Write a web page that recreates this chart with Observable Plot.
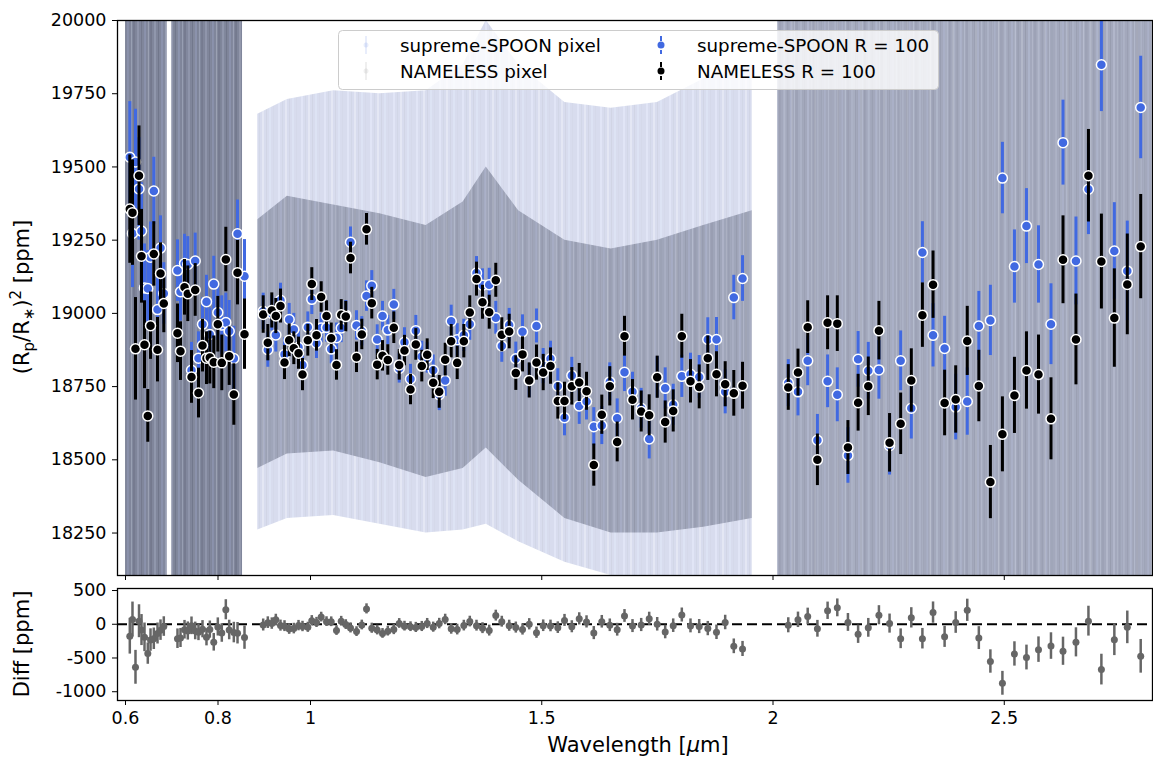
<!DOCTYPE html>
<html><head><meta charset="utf-8">
<script src="https://cdn.jsdelivr.net/npm/d3@7"></script>
<script src="https://cdn.jsdelivr.net/npm/@observablehq/plot@0.6"></script>
<style>
body{margin:0;background:#fff;}
#fig{position:relative;width:1153px;height:757px;font-family:"DejaVu Sans",sans-serif;background:#fff;}
#top,#bot{position:absolute;left:0;}
#top{top:0px}
#bot{top:585px}
</style></head><body><div id="fig"><div id="top"></div><div id="bot"></div></div>
<script>
// ---------- data ----------
const xTicks = [0.6, 0.8, 1, 1.5, 2, 2.5];
const xTickLabels = ["0.6", "0.8", "1", "1.5", "2", "2.5"];
const yTicks = [18250, 18500, 18750, 19000, 19250, 19500, 19750, 20000];
const diffTicks = [-1000, -500, 0, 500];

// R = 100 binned spectra (wavelength in micron, depth in ppm)
const binWave = [
0.6093,0.6151,0.6216,0.6292,0.6346,0.6411,0.6482,0.6541,0.6612,0.6692,0.6757,0.6828,
0.7124,0.7189,0.7276,0.7347,0.7427,0.7507,0.7578,0.7665,0.7751,0.7823,0.7908,0.7996,0.8082,0.8169,0.8242,0.8342,0.8422,0.8573,
0.8977,0.9077,0.9163,0.9250,0.9351,0.9438,0.9539,0.9639,0.9741,0.9827,
0.9942,1.0028,1.0130,1.0231,1.0346,1.0448,1.0562,1.0664,1.0763,1.0865,
1.0995,1.1109,1.1211,1.1325,1.1442,1.1557,1.1671,1.1801,1.1918,1.2032,
1.2162,1.2277,1.2406,1.2523,1.2653,1.2783,1.2912,1.3042,1.3172,1.3315,
1.3444,1.3589,1.3719,1.3864,1.4006,1.4136,1.4296,1.4439,1.4584,1.4729,
1.4886,1.5031,1.5189,1.5347,1.5492,1.5650,1.5810,1.5968,1.6125,1.6298,
1.6471,1.6631,1.6789,1.6962,1.7150,1.7323,1.7496,1.7669,1.7842,1.8028,
1.8216,1.8404,1.8590,1.8778,1.8966,1.9152,1.9341,
2.033,2.054,2.075,2.096,2.118,2.139,2.162,2.184,2.206,2.229,
2.252,2.276,2.299,2.323,2.346,2.371,2.395,2.420,2.445,2.470,
2.496,2.522,2.548,2.574,2.601,2.627,2.655,2.682,2.710,2.738,
2.766,2.795];

const spoonValue = [
19533,19273,19517,19425,19281,19087,19085,19192,19418,19013,19223,19068,
19146,19074,19170,19167,18806,19179,18847,18963,19040,18928,19100,19003,18960,18969,18939,18846,19272,19127,
19007,18876,19000,18926,19045,18860,18979,18945,18884,18824,
18953,19048,18898,18950,18952,18878,18917,18950,18994,19243,
18959,18939,19059,19094,18911,18991,18943,19030,18812,18901,
18776,18941,18853,18848,18806,18722,18771,18973,18910,18925,
18963,19138,19096,19098,18985,18889,18960,18845,18937,18771,
18957,18820,18845,18751,18644,18788,18684,18699,18613,18617,
18766,18642,18799,18732,18676,18571,18782,18744,18688,18785,
18792,18783,18911,18911,18732,19054,19119,
18762,18732,18838,18567,18768,18722,18515,18843,18804,18807,
18548,18838,18676,19208,18925,18880,18680,18699,18957,18976,
19462,19160,19298,19167,18963,19583,19179,19424,19849,19213,
19145,19703];

const spoonErr = [
190,185,180,175,165,150,130,120,115,110,110,105,
105,100,100,95,95,95,90,90,90,90,95,95,100,100,105,110,115,125,
62,60,60,58,58,56,55,55,54,54,
52,52,52,50,50,50,50,50,50,52,
50,50,52,52,50,50,50,52,50,50,
50,52,52,52,52,54,54,55,55,55,
55,56,56,56,56,56,57,57,58,58,
58,60,60,60,62,62,63,63,65,65,
65,66,66,67,68,68,70,70,70,72,
72,73,74,75,75,76,78,
80,82,85,88,90,92,95,95,97,100,
100,102,105,105,108,110,112,115,118,120,
122,125,128,132,138,145,150,155,160,165,
170,175];

const namelessValue = [
19356,19344,18879,19470,19195,18893,18650,18958,19203,18876,19136,19034,
18932,18871,19089,19067,18783,19080,18728,18890,18847,18849,18833,18963,18831,19184,18854,18723,19139,18929,
18996,18900,19010,18991,19025,18832,18908,18881,18864,18791,
18908,19100,18925,19056,18991,18915,18824,18995,18989,19189,
18850,18928,19287,19035,18825,18855,18841,18951,18824,18873,
18740,18894,18820,18859,18763,18732,18842,18905,18831,18905,
19003,19117,19038,19004,19113,18927,18938,18796,18860,18771,
18832,18798,18820,18701,18701,18751,18764,18734,18482,18654,
18751,18561,18922,18705,18665,18652,18782,18629,18667,18922,
18768,18749,18847,18792,18758,18727,18753,
18747,18798,18953,18500,18968,18965,18542,18695,18751,18941,
18558,18623,18771,18994,19098,18694,18706,18906,18752,18424,
18587,18720,18805,18791,18640,19183,18911,19470,19177,18984,
19099,19228];

const namelessErr = [
185,180,175,170,160,150,90,115,110,110,105,100,
100,100,95,95,90,90,85,90,90,90,90,95,95,110,100,105,110,120,
64,62,60,60,58,58,56,56,55,55,
54,56,54,52,52,52,52,52,52,54,
52,52,54,54,52,52,52,54,52,52,
52,54,54,54,54,56,56,57,57,57,
57,58,58,58,58,58,59,59,60,60,
60,62,62,62,64,64,65,65,72,67,
67,68,68,69,70,70,72,72,72,75,
74,75,76,77,77,78,80,
78,80,90,88,92,95,92,97,100,100,
100,105,108,110,115,112,115,118,122,125,
128,130,132,135,140,150,155,158,162,168,
172,178];

// pixel-level spectra: envelope of the error bars (outer) and of the dense point cloud (core)
const pixWave    = [0.600, 0.690, 0.700, 0.853, 0.886, 0.95, 1.05, 1.15, 1.25, 1.33, 1.38, 1.45, 1.55, 1.65, 1.75, 1.85, 1.955, 2.010, 2.82];
const pixSegment = [0, 0, 1, 1, 2, 2, 2, 2, 2, 2, 2, 2, 2, 2, 2, 2, 2, 3, 3];
const pixOuterLo = [18105,18105,18105,18105, 18260,18300,18310,18280,18250,18260,18280,18220,18150,18105,18105,18105,18105, 18105,18105];
const pixOuterHi = [20000,20000,20000,20000, 19680,19730,19760,19750,19760,19850,20000,19850,19720,19700,19720,19800,19850, 20000,20000];
const pixCoreLo  = [18105,18105,18105,18105, 18470,18520,18530,18490,18440,18470,18540,18430,18300,18250,18250,18270,18300, 18105,18105];
const pixCoreHi  = [20000,20000,20000,20000, 19320,19400,19370,19340,19300,19380,19500,19350,19250,19220,19250,19300,19350, 20000,20000];

// ---------- tables built from the arrays ----------
const spoonRows = binWave.map((w, i) => ({w, v: spoonValue[i], e: spoonErr[i]}));
const namelessRows = binWave.map((w, i) => ({w, v: namelessValue[i], e: namelessErr[i]}));
const diffRows = binWave.map((w, i) => ({
  w,
  d: namelessValue[i] - spoonValue[i],
  e: Math.sqrt(namelessErr[i] ** 2 + spoonErr[i] ** 2)
}));
const pixRows = pixWave.map((w, i) => ({
  w, seg: pixSegment[i],
  oLo: pixOuterLo[i], oHi: pixOuterHi[i], cLo: pixCoreLo[i], cHi: pixCoreHi[i]
}));

// ---------- styles ----------
const X_DOMAIN = [0.5827, 2.8205];
const BLUE = "#4169e1";
const FONT = "DejaVu Sans";
const TICK_FONT = "17.5px";
const coreOpacity = {0: 0.7, 1: 0.7, 2: 0.45, 3: 0.42};
// soft vertical streak textures standing in for the many overlapping pixel error bars
const PATTERNS = [
  {id: "pixOuterPat", width: 23, base: "#6e7fc0", stripes: [
    [2, 2, "#8fa0dc"], [6, 1, "#5a6aa8"], [9, 2, "#9aa8d8"], [13, 1, "#55649e"], [16, 2, "#8396d6"], [20, 1, "#6272b0"]]},
  {id: "pixCorePat", width: 17, base: "#5a6178", stripes: [
    [1, 2, "#70778e"], [5, 1, "#474d62"], [8, 2, "#6a7290"], [12, 1, "#7c8398"], [14, 2, "#4c5268"]]}
];

const topPlot = Plot.plot({
  width: 1153, height: 585,
  marginTop: 20, marginBottom: 10, marginLeft: 117, marginRight: 1,
  style: {fontFamily: FONT, fontSize: TICK_FONT, color: "black", background: "white", overflow: "visible"},
  x: {domain: X_DOMAIN, ticks: xTicks, tickFormat: () => "", tickSize: 5, label: null},
  y: {domain: [18105, 20000], ticks: yTicks, tickFormat: d => String(d), tickSize: 5, tickPadding: 6, label: null},
  marks: [
    Plot.areaY(pixRows, {x: "w", y1: "oLo", y2: "oHi", z: "seg", fill: "url(#pixOuterPat)", fillOpacity: 0.27, curve: "linear"}),
    ...[0, 1, 2, 3].map(s => Plot.areaY(pixRows.filter(d => d.seg === s),
      {x: "w", y1: "cLo", y2: "cHi", fill: "url(#pixCorePat)", fillOpacity: coreOpacity[s], curve: "linear"})),
    Plot.ruleX(spoonRows, {x: "w", y1: d => d.v - d.e, y2: d => d.v + d.e, stroke: BLUE, strokeWidth: 3, clip: true}),
    Plot.dot(spoonRows, {x: "w", y: "v", r: 5, fill: BLUE, stroke: "white", strokeWidth: 1.5}),
    Plot.ruleX(namelessRows, {x: "w", y1: d => d.v - d.e, y2: d => d.v + d.e, stroke: "black", strokeWidth: 3, clip: true}),
    Plot.dot(namelessRows, {x: "w", y: "v", r: 5, fill: "black", stroke: "white", strokeWidth: 1.5}),
    Plot.frame({stroke: "black", strokeWidth: 1.3})
  ]
});
document.getElementById("top").appendChild(topPlot);

// texture pattern definitions
const tsvg = d3.select(topPlot);
const defs = tsvg.insert("defs", ":first-child");
for (const p of PATTERNS) {
  const pat = defs.append("pattern").attr("id", p.id).attr("patternUnits", "userSpaceOnUse")
    .attr("width", p.width).attr("height", 10);
  pat.append("rect").attr("width", p.width).attr("height", 10).attr("fill", p.base);
  for (const [x, w, c] of p.stripes) {
    pat.append("rect").attr("x", x).attr("y", 0).attr("width", w).attr("height", 10).attr("fill", c);
  }
}

const botPlot = Plot.plot({
  width: 1153, height: 172,
  marginTop: 3, marginBottom: 57, marginLeft: 117, marginRight: 1,
  style: {fontFamily: FONT, fontSize: TICK_FONT, color: "black", background: "white", overflow: "visible"},
  x: {domain: X_DOMAIN, ticks: xTicks, tickFormat: d => xTickLabels[xTicks.indexOf(d)], tickSize: 5, tickPadding: 6, label: null},
  y: {domain: [-1130, 530], ticks: diffTicks, tickFormat: d => String(d), tickSize: 5, tickPadding: 6, label: null},
  marks: [
    Plot.ruleY([0], {stroke: "black", strokeWidth: 2, strokeDasharray: "10,5"}),
    Plot.ruleX(diffRows, {x: "w", y1: d => d.d - d.e, y2: d => d.d + d.e, stroke: "#666666", strokeWidth: 2.5}),
    Plot.dot(diffRows, {x: "w", y: "d", r: 3.5, fill: "#666666"}),
    Plot.frame({stroke: "black", strokeWidth: 1.3})
  ]
});
document.getElementById("bot").appendChild(botPlot);

// ---------- axis titles ----------
const yl = tsvg.append("text")
  .attr("transform", "translate(29,297) rotate(-90)")
  .attr("text-anchor", "middle").attr("font-family", FONT).attr("font-size", 21).attr("fill", "black");
yl.append("tspan").text("(R");
yl.append("tspan").attr("font-size", 15).attr("dy", 5).text("p");
yl.append("tspan").attr("dy", -5).text("/R");
yl.append("tspan").attr("font-size", 15).attr("dy", 5).text("∗");
yl.append("tspan").attr("dy", -5).text(")");
yl.append("tspan").attr("font-size", 15).attr("dy", -8).text("2");
yl.append("tspan").attr("dy", 8).text(" [ppm]");

const bsvg = d3.select(botPlot);
bsvg.append("text")
  .attr("transform", "translate(29,59) rotate(-90)")
  .attr("text-anchor", "middle").attr("font-family", FONT).attr("font-size", 21).attr("fill", "black")
  .text("Diff [ppm]");
const xl = bsvg.append("text")
  .attr("x", 638).attr("y", 167)
  .attr("text-anchor", "middle").attr("font-family", FONT).attr("font-size", 21).attr("fill", "black");
xl.append("tspan").text("Wavelength [");
xl.append("tspan").attr("font-style", "italic").text("μ");
xl.append("tspan").text("m]");

// ---------- legend ----------
const lg = tsvg.append("g").attr("font-family", FONT).attr("font-size", 18.3)
  .attr("fill", "black").attr("text-anchor", "start");
lg.append("rect").attr("x", 338.5).attr("y", 30.5).attr("width", 600).attr("height", 59).attr("rx", 4)
  .attr("fill", "white").attr("fill-opacity", 0.8).attr("stroke", "#cccccc");
const entries = [
  {x: 366, y: 45, label: "supreme-SPOON pixel", color: BLUE, faint: true},
  {x: 366, y: 71, label: "NAMELESS pixel", color: "#7f7f7f", faint: true},
  {x: 661, y: 45, label: "supreme-SPOON R = 100", color: BLUE, faint: false},
  {x: 661, y: 71, label: "NAMELESS R = 100", color: "black", faint: false}
];
for (const e of entries) {
  const op = e.faint ? 0.12 : 1;
  lg.append("line").attr("x1", e.x).attr("x2", e.x).attr("y1", e.y - 9).attr("y2", e.y + 9)
    .attr("stroke", e.color).attr("stroke-width", 2).attr("stroke-opacity", op)
    .attr("stroke-dasharray", e.faint ? null : "5,2");
  lg.append("circle").attr("cx", e.x).attr("cy", e.y).attr("r", e.faint ? 2.5 : 3.5)
    .attr("fill", e.color).attr("fill-opacity", op);
  lg.append("text").attr("x", e.x === 366 ? 400 : 697).attr("y", e.y + 7).text(e.label);
}
</script></body></html>
